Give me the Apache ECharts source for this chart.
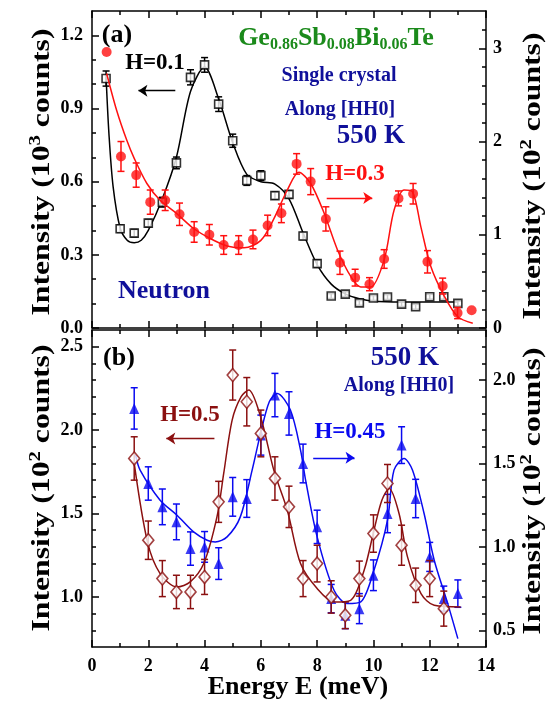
<!DOCTYPE html>
<html>
<head>
<meta charset="utf-8">
<script src="https://cdn.jsdelivr.net/npm/echarts@6/dist/echarts.min.js"></script>
<style>
  html, body { margin: 0; padding: 0; background: #fff; }
  #chart { width: 558px; height: 703px; }
</style>
</head>
<body>
<div id="chart"></div>
<script>
// ---- panel (a): H=0.1, left axis (10^3 counts) ----
const eBlack = [0.5, 1, 1.5, 2, 2.5, 3, 3.5, 4, 4.5, 5, 5.5, 6, 6.5, 7, 7.5, 8, 8.5, 9, 9.5, 10, 10.5, 11, 11.5, 12, 12.5, 13]
const vBlack = [1.023, 0.407, 0.389, 0.430, 0.516, 0.677, 1.028, 1.079, 0.918, 0.768, 0.605, 0.625, 0.543, 0.548, 0.377, 0.264, 0.131, 0.139, 0.103, 0.123, 0.127, 0.098, 0.087, 0.128, 0.128, 0.101]
const errBlack = [0.031, 0.015, 0.015, 0.015, 0.02, 0.024, 0.031, 0.03, 0.03, 0.027, 0.02, 0.02, 0.015, 0.015, 0.015, 0.015, 0.01, 0.01, 0.01, 0.01, 0.01, 0.01, 0.01, 0.01, 0.01, 0.01]
const fitBlackE = [0.5, 0.6, 0.75, 1.0, 1.25, 1.5, 1.75, 2.0, 2.5, 3.0, 3.5, 4.0, 4.5, 5.0, 5.5, 6.0, 6.5, 7.0, 7.5, 8.0, 8.5, 9.0, 9.5, 10, 11, 12, 13]
const fitBlackV = [1.03, 0.80, 0.58, 0.41, 0.36, 0.35, 0.36, 0.40, 0.53, 0.70, 0.97, 1.07, 0.94, 0.76, 0.63, 0.60, 0.59, 0.53, 0.39, 0.26, 0.18, 0.14, 0.12, 0.11, 0.107, 0.107, 0.107]

// ---- panel (a): H=0.3, right axis (10^2 counts) ----
const eRed = [0.52, 1.03, 1.57, 2.07, 2.6, 3.11, 3.63, 4.17, 4.68, 5.21, 5.72, 6.24, 6.73, 7.27, 7.77, 8.31, 8.81, 9.35, 9.86, 10.38, 10.89, 11.41, 11.92, 12.46, 12.99, 13.49]
const vRed = [2.96, 1.84, 1.64, 1.35, 1.37, 1.22, 1.03, 1.00, 0.89, 0.89, 0.95, 1.10, 1.23, 1.76, 1.57, 1.17, 0.70, 0.54, 0.47, 0.74, 1.39, 1.44, 0.71, 0.45, 0.16, 0.19]
const errRed = [0, 0.16, 0.13, 0.13, 0.11, 0.12, 0.11, 0.11, 0.10, 0.10, 0.10, 0.11, 0.10, 0.11, 0.14, 0.13, 0.125, 0.09, 0.07, 0.10, 0.08, 0.11, 0.12, 0.085, 0.06, 0]
const fitRedE = [0.52, 0.88, 1.24, 1.5, 1.95, 2.42, 3.0, 3.6, 4.2, 4.8, 5.4, 6.0, 6.46, 6.94, 7.35, 7.77, 8.25, 8.72, 9.2, 9.55, 9.9, 10.38, 10.73, 11.09, 11.39, 11.69, 12.04, 12.52, 13.0, 13.53]
const fitRedV = [2.73, 2.33, 2.01, 1.82, 1.55, 1.37, 1.23, 1.07, 0.96, 0.88, 0.86, 0.94, 1.17, 1.48, 1.67, 1.55, 1.23, 0.84, 0.55, 0.44, 0.44, 0.73, 1.26, 1.48, 1.46, 1.08, 0.66, 0.34, 0.12, 0.05]

// ---- panel (b): H=0.5, left axis (10^2 counts) ----
const eBrown = [1.5, 2, 2.5, 3, 3.5, 4, 4.5, 5, 5.5, 6, 6.5, 7, 7.5, 8, 8.5, 9, 9.5, 10, 10.5, 11, 11.5, 12, 12.5]
const vBrown = [1.83, 1.34, 1.11, 1.03, 1.03, 1.12, 1.57, 2.33, 2.17, 1.98, 1.71, 1.54, 1.11, 1.20, 1.00, 0.89, 1.11, 1.38, 1.68, 1.31, 1.07, 1.11, 0.93]
const errBrown = [0.13, 0.115, 0.108, 0.1, 0.1, 0.105, 0.123, 0.15, 0.145, 0.14, 0.13, 0.124, 0.108, 0.11, 0.097, 0.08, 0.105, 0.112, 0.114, 0.12, 0.103, 0.108, 0.105]
const fitBrownE = [1.5, 1.97, 2.42, 3.02, 3.49, 3.97, 4.44, 4.68, 4.98, 5.3, 5.57, 5.99, 6.46, 6.94, 7.41, 8.0, 8.6, 9.19, 9.67, 10.02, 10.3, 10.56, 10.91, 11.21, 11.69, 12.16, 13.1]
const fitBrownV = [1.80, 1.33, 1.14, 1.06, 1.09, 1.20, 1.48, 1.74, 2.06, 2.20, 2.24, 2.08, 1.76, 1.52, 1.20, 1.05, 0.97, 0.98, 1.16, 1.40, 1.58, 1.65, 1.50, 1.24, 1.02, 0.95, 0.94]

// ---- panel (b): H=0.45, right axis (10^2 counts) ----
const eBlue = [1.5, 2, 2.5, 3, 3.5, 4, 4.5, 5, 5.5, 6, 6.5, 7, 7.5, 8, 8.5, 9, 9.5, 10, 10.5, 11, 11.5, 12, 12.5, 13]
const vBlue = [1.83, 1.38, 1.24, 1.15, 0.99, 1.00, 0.90, 1.30, 1.29, 1.67, 1.91, 1.80, 1.50, 1.12, 0.69, 0.59, 0.63, 0.83, 1.20, 1.61, 1.29, 0.94, 0.69, 0.72]
const errBlue = [0.124, 0.1, 0.107, 0.107, 0.1, 0.092, 0.095, 0.116, 0.113, 0.12, 0.13, 0.13, 0.116, 0.1, 0.085, 0.08, 0.09, 0.092, 0.115, 0.11, 0.115, 0.087, 0.075, 0.082]
const fitBlueE = [1.55, 1.71, 2.42, 3.02, 3.61, 4.09, 4.38, 4.8, 5.27, 5.69, 5.99, 6.3, 6.58, 7.05, 7.41, 7.59, 8.0, 8.6, 9.07, 9.55, 10.02, 10.5, 10.73, 11.09, 11.39, 11.8, 12.16, 12.64, 13.0]
const fitBlueV = [1.55, 1.46, 1.28, 1.19, 1.09, 1.04, 1.03, 1.06, 1.18, 1.46, 1.68, 1.87, 1.92, 1.82, 1.58, 1.40, 1.06, 0.74, 0.66, 0.67, 0.86, 1.16, 1.46, 1.53, 1.46, 1.20, 0.92, 0.66, 0.45]

// ---- tick labels ----
const ticksA_left = [0, 0.3, 0.6, 0.9, 1.2]
const minorA_left = [0.1, 0.2, 0.4, 0.5, 0.7, 0.8, 1.0, 1.1]
const ticksA_right = [0, 1, 2, 3]
const minorA_right = [0.2, 0.4, 0.6, 0.8, 1.2, 1.4, 1.6, 1.8, 2.2, 2.4, 2.6, 2.8, 3.2]
const ticksB_left = [1.0, 1.5, 2.0, 2.5]
const minorB_left = [0.8, 0.9, 1.1, 1.2, 1.3, 1.4, 1.6, 1.7, 1.8, 1.9, 2.1, 2.2, 2.3, 2.4]
const ticksB_right = [0.5, 1.0, 1.5, 2.0]
const minorB_right = [0.6, 0.7, 0.8, 0.9, 1.1, 1.2, 1.3, 1.4, 1.6, 1.7, 1.8, 1.9, 2.1, 2.2]

const FONT = "'Liberation Serif', 'Times New Roman', serif"
const RED = '#ff1010'
const BROWN = '#8b1010'
const BLUE = '#0a0af0'
const NAVY = '#10109a'
const GREEN = '#1b8a1b'

const axisLineStyle = { color: '#000', width: 1.5 }

function xAxisDef(grid, pos, showLabel) {
  return {
    type: 'value', gridIndex: grid, position: pos, min: 0, max: 14, interval: 2,
    axisLine: { show: true, onZero: false, lineStyle: axisLineStyle },
    axisTick: { show: true, inside: true, length: 7, lineStyle: axisLineStyle },
    minorTick: { show: true, splitNumber: 2, length: 4, lineStyle: axisLineStyle },
    axisLabel: { show: showLabel, margin: 10, color: '#000', fontFamily: FONT, fontWeight: 'bold', fontSize: 18 },
    splitLine: { show: false },
    minorSplitLine: { show: false }
  }
}

function yMain(grid, pos, min, max, ticks, digits, margin) {
  return {
    type: 'value', gridIndex: grid, position: pos, min: min, max: max,
    axisLine: { show: true, onZero: false, lineStyle: axisLineStyle },
    axisTick: { show: true, inside: true, length: 7, customValues: ticks, lineStyle: axisLineStyle },
    axisLabel: {
      show: true, customValues: ticks, margin: margin,
      formatter: v => Number(v).toFixed(digits),
      color: '#000', fontFamily: FONT, fontWeight: 'bold', fontSize: 18
    },
    splitLine: { show: false }
  }
}

function yMinor(grid, pos, min, max, ticks) {
  return {
    type: 'value', gridIndex: grid, position: pos, min: min, max: max,
    axisLine: { show: false, onZero: false },
    axisTick: { show: true, inside: true, length: 4, customValues: ticks, lineStyle: axisLineStyle },
    axisLabel: { show: false },
    splitLine: { show: false }
  }
}

// vertical error bar with caps
function errorBar(color) {
  return function (params, api) {
    const lo = api.value(1)
    const hi = api.value(2)
    if (hi - lo <= 0) return null
    const top = api.coord([api.value(0), hi])
    const bot = api.coord([api.value(0), lo])
    const hw = 3.5
    const style = { stroke: color, lineWidth: 1.5 }
    return {
      type: 'group',
      children: [
        { type: 'line', shape: { x1: top[0], y1: top[1], x2: bot[0], y2: bot[1] }, style: style },
        { type: 'line', shape: { x1: top[0] - hw, y1: top[1], x2: top[0] + hw, y2: top[1] }, style: style },
        { type: 'line', shape: { x1: bot[0] - hw, y1: bot[1], x2: bot[0] + hw, y2: bot[1] }, style: style }
      ]
    }
  }
}

function errSeries(xi, yi, es, vs, errs, color, z) {
  return {
    type: 'custom', xAxisIndex: xi, yAxisIndex: yi, z: z, silent: true,
    renderItem: errorBar(color),
    encode: { x: 0, y: [1, 2] },
    data: es.map((e, i) => [e, vs[i] - errs[i], vs[i] + errs[i]])
  }
}

function fitSeries(xi, yi, es, vs, color, z, arrow) {
  return {
    type: 'line', xAxisIndex: xi, yAxisIndex: yi, z: z, silent: true,
    data: es.map((e, i) => [e, vs[i]]),
    smooth: 0.3, showSymbol: false,
    lineStyle: { color: color, width: 1.5 },
    markLine: {
      silent: true, symbol: ['none', 'arrow'], symbolSize: 9,
      label: { show: false },
      lineStyle: { color: color, width: 1.3, type: 'solid' },
      data: [[{ coord: arrow[0] }, { coord: arrow[1] }]]
    }
  }
}

function pointSeries(xi, yi, es, vs, symbol, size, itemStyle, z) {
  return {
    type: 'scatter', xAxisIndex: xi, yAxisIndex: yi, z: z, silent: true,
    symbol: symbol, symbolSize: size, itemStyle: itemStyle,
    data: es.map((e, i) => [e, vs[i]])
  }
}

function txt(text, x, y, size, color) {
  return {
    type: 'text', x: x, y: y, silent: true,
    style: { text: text, fill: color, fontSize: size, fontWeight: 'bold', fontFamily: FONT, align: 'center', verticalAlign: 'middle' }
  }
}

function yTitle(power, x, y) {
  return {
    type: 'text', x: x, y: y, rotation: Math.PI / 2, scaleX: 1.22, silent: true,
    style: {
      text: '{t|Intensity (10}{s|' + power + '}{t| counts)}',
      align: 'center', verticalAlign: 'middle',
      rich: {
        t: { fontSize: 26, fontWeight: 'bold', fontFamily: FONT, fill: '#000', lineHeight: 30 },
        s: { fontSize: 17, fontWeight: 'bold', fontFamily: FONT, fill: '#000', lineHeight: 14, verticalAlign: 'top' }
      }
    }
  }
}

const chart = echarts.init(document.getElementById('chart'))

const option = {
  animation: false,
  backgroundColor: '#fff',
  grid: [
    { left: 92, right: 72, top: 11, height: 317 },
    { left: 92, right: 72, top: 330, height: 317 }
  ],
  xAxis: [
    xAxisDef(0, 'bottom', false),
    xAxisDef(0, 'top', false),
    xAxisDef(1, 'bottom', true),
    xAxisDef(1, 'top', false)
  ],
  yAxis: [
    yMain(0, 'left', 0, 1.3, ticksA_left, 1, 9),
    yMinor(0, 'left', 0, 1.3, minorA_left),
    yMain(0, 'right', 0, 3.4, ticksA_right, 0, 7),
    yMinor(0, 'right', 0, 3.4, minorA_right),
    yMain(1, 'left', 0.7, 2.6, ticksB_left, 1, 9),
    yMinor(1, 'left', 0.7, 2.6, minorB_left),
    yMain(1, 'right', 0.4, 2.3, ticksB_right, 1, 7),
    yMinor(1, 'right', 0.4, 2.3, minorB_right)
  ],
  series: [
    // panel (a)
    errSeries(0, 0, eBlack, vBlack, errBlack, '#000', 2),
    fitSeries(0, 0, fitBlackE, fitBlackV, '#000', 2, [[2.96, 0.973], [1.65, 0.973]]),
    pointSeries(0, 0, eBlack, vBlack, 'rect', 8, { color: '#fff', borderColor: '#000', borderWidth: 1.6 }, 3),
    errSeries(0, 2, eRed, vRed, errRed, RED, 4),
    fitSeries(0, 2, fitRedE, fitRedV, RED, 4, [[8.34, 1.395], [9.96, 1.395]]),
    pointSeries(0, 2, eRed, vRed, 'circle', 10, { color: RED }, 5),
    // panel (b)
    errSeries(2, 6, eBlue, vBlue, errBlue, BLUE, 2),
    fitSeries(2, 6, fitBlueE, fitBlueV, BLUE, 2, [[7.86, 1.534], [9.33, 1.534]]),
    pointSeries(2, 6, eBlue, vBlue, 'triangle', [10, 11], { color: BLUE }, 3),
    errSeries(2, 4, eBrown, vBrown, errBrown, BROWN, 4),
    fitSeries(2, 4, fitBrownE, fitBrownV, BROWN, 4, [[4.35, 1.95], [2.64, 1.95]]),
    pointSeries(2, 4, eBrown, vBrown, 'diamond', [11, 13], { color: '#fff', borderColor: BROWN, borderWidth: 1.6 }, 5)
  ],
  graphic: [
    txt('(a)', 117, 35, 26, '#000'),
    txt('H=0.1', 155, 63, 23, '#000'),
    {
      type: 'text', x: 336, y: 38, silent: true,
      style: {
        text: '{b|Ge}{s|0.86}{b|Sb}{s|0.08}{b|Bi}{s|0.06}{b|Te}',
        align: 'center', verticalAlign: 'middle',
        rich: {
          b: { fontSize: 26, fontWeight: 'bold', fontFamily: FONT, fill: GREEN, lineHeight: 30 },
          s: { fontSize: 16, fontWeight: 'bold', fontFamily: FONT, fill: GREEN, lineHeight: 12, verticalAlign: 'bottom' }
        }
      }
    },
    txt('Single crystal', 339, 76, 20, NAVY),
    txt('Along [HH0]', 340, 110, 20, NAVY),
    txt('550 K', 371, 136, 27, NAVY),
    txt('H=0.3', 355, 174, 23, RED),
    txt('Neutron', 164, 291, 26, NAVY),
    txt('(b)', 119, 358, 26, '#000'),
    txt('H=0.5', 190, 415, 23, BROWN),
    txt('550 K', 405, 358, 27, NAVY),
    txt('Along [HH0]', 399, 386, 20, NAVY),
    txt('H=0.45', 350, 432, 23, BLUE),
    txt('Energy E (meV)', 298, 687, 26, '#000'),
    yTitle('3', 42, 172),
    yTitle('2', 533, 176),
    yTitle('2', 42, 488),
    yTitle('2', 533, 491)
  ]
}

chart.setOption(option)
</script>
</body>
</html>
